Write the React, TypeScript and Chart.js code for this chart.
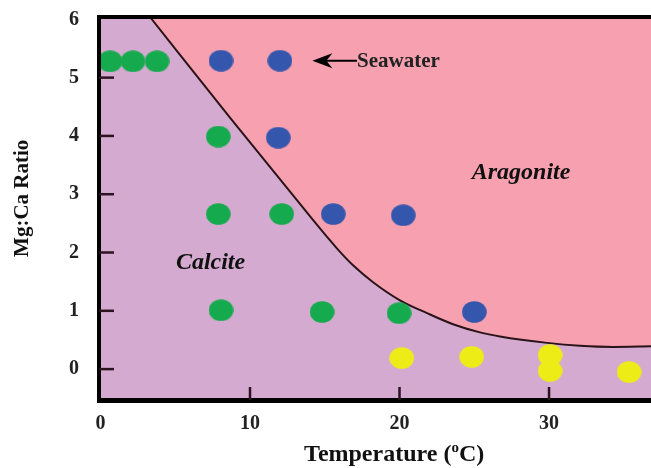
import React, { useEffect, useRef } from "react";
import { Chart, registerables } from "chart.js";
Chart.register(...registerables);

// Phase boundary (calcite / aragonite)
const boundaryT = [3.31, 8.7, 14.21, 15.15, 16.02, 16.89, 18.23, 20.03, 21.84, 23.58, 25.38, 26.72, 29.87, 32.07, 34.28, 36.82];
const boundaryRatio = [6.04, 4.3, 2.56, 2.27, 2.01, 1.78, 1.49, 1.18, 0.96, 0.77, 0.63, 0.56, 0.45, 0.4, 0.38, 0.39];

// Calcite precipitates (green)
const calciteT = [0.64, 2.17, 3.78, 7.88, 7.88, 12.12, 8.06, 14.82, 19.97];
const calciteRatio = [5.28, 5.28, 5.28, 3.99, 2.66, 2.66, 1.01, 0.98, 0.96];

// Aragonite precipitates (blue)
const aragoniteT = [8.06, 12.0, 11.89, 15.57, 20.25, 25.0];
const aragoniteRatio = [5.29, 5.29, 3.97, 2.66, 2.64, 0.98];

// Mixed / other (yellow)
const yellowT = [20.15, 24.83, 30.07, 30.07, 35.35];
const yellowRatio = [0.19, 0.21, 0.24, -0.03, -0.05];

const xTicks = [0, 10, 20, 30];
const yTicks = [0, 1, 2, 3, 4, 5, 6];
const xInnerTicks = [10, 20, 30];
const yInnerTicks = [0, 1, 2, 3, 4, 5];

const X_MIN = -0.1;
const X_MAX = 36.82;
const Y_MIN = -0.53;
const Y_MAX = 6.04;

const PURPLE = "rgb(212,170,208)";
const PINK = "rgb(246,160,176)";
const GREEN = "rgb(22,170,78)";
const BLUE = "rgb(52,86,172)";
const YELLOW = "rgb(238,236,22)";
const SERIF = "'Liberation Serif', 'Times New Roman', serif";

function ellipse(color: string) {
  const c = document.createElement("canvas");
  c.width = 25;
  c.height = 22;
  const ctx = c.getContext("2d")!;
  ctx.fillStyle = color;
  ctx.beginPath();
  ctx.ellipse(12.5, 11, 12.3, 10.8, 0, 0, Math.PI * 2);
  ctx.fill();
  return c;
}

const toPts = (xs: number[], ys: number[]) => xs.map((x, i) => ({ x, y: ys[i] }));

export default function App() {
  const ref = useRef<HTMLCanvasElement>(null);
  useEffect(() => {
    document.body.style.margin = "0";
    const canvas = ref.current!;
    const decor = {
      id: "decor",
      beforeDraw(chart: any) {
        const { ctx, chartArea: a } = chart;
        ctx.save();
        ctx.fillStyle = PURPLE;
        ctx.fillRect(a.left, a.top, a.right - a.left, a.bottom - a.top);
        ctx.restore();
      },
      afterDraw(chart: any) {
        const { ctx, chartArea: a } = chart;
        const xs = chart.scales.x;
        const ys = chart.scales.y;
        ctx.save();
        // top border
        ctx.strokeStyle = "#000";
        ctx.lineWidth = 4;
        ctx.beginPath();
        ctx.moveTo(a.left - 2, a.top);
        ctx.lineTo(a.right, a.top);
        ctx.stroke();
        // inner tick marks
        ctx.strokeStyle = "#2a1420";
        ctx.lineWidth = 2.5;
        yInnerTicks.forEach((v) => {
          const py = ys.getPixelForValue(v);
          ctx.beginPath();
          ctx.moveTo(a.left, py);
          ctx.lineTo(a.left + 15, py);
          ctx.stroke();
        });
        xInnerTicks.forEach((v) => {
          const px = xs.getPixelForValue(v);
          ctx.beginPath();
          ctx.moveTo(px, a.bottom);
          ctx.lineTo(px, a.bottom - 13);
          ctx.stroke();
        });
        // region labels
        ctx.fillStyle = "#111";
        ctx.textAlign = "center";
        ctx.textBaseline = "middle";
        ctx.font = `italic bold 24px ${SERIF}`;
        ctx.fillText("Aragonite", xs.getPixelForValue(28.13), ys.getPixelForValue(3.36));
        ctx.fillText("Calcite", xs.getPixelForValue(7.36), ys.getPixelForValue(1.82));
        // seawater arrow + label
        const ay = ys.getPixelForValue(5.29);
        const tip = xs.getPixelForValue(14.17);
        const tail = xs.getPixelForValue(17.16);
        ctx.strokeStyle = "#000";
        ctx.lineWidth = 2;
        ctx.beginPath();
        ctx.moveTo(tip + 6, ay);
        ctx.lineTo(tail, ay);
        ctx.stroke();
        ctx.fillStyle = "#000";
        ctx.beginPath();
        ctx.moveTo(tip, ay);
        ctx.lineTo(tip + 20, ay - 7.5);
        ctx.lineTo(tip + 14, ay);
        ctx.lineTo(tip + 20, ay + 7.5);
        ctx.closePath();
        ctx.fill();
        ctx.fillStyle = "#222";
        ctx.textAlign = "left";
        ctx.font = `bold 21px ${SERIF}`;
        ctx.fillText("Seawater", tail, ay + 1);
        // axis titles
        ctx.fillStyle = "#111";
        ctx.textBaseline = "alphabetic";
        const t1 = "Temperature (";
        const t2 = "C)";
        ctx.font = `bold 24px ${SERIF}`;
        const w1 = ctx.measureText(t1).width;
        const w2 = ctx.measureText(t2).width;
        ctx.font = `bold 15px ${SERIF}`;
        const wo = ctx.measureText("o").width;
        const total = w1 + wo + w2;
        const cx = xs.getPixelForValue(19.64);
        const by = chart.height - 7;
        let sx = cx - total / 2;
        ctx.font = `bold 24px ${SERIF}`;
        ctx.fillText(t1, sx, by);
        sx += w1;
        ctx.font = `bold 15px ${SERIF}`;
        ctx.fillText("o", sx, by - 9);
        sx += wo;
        ctx.font = `bold 24px ${SERIF}`;
        ctx.fillText(t2, sx, by);
        ctx.translate(23, ys.getPixelForValue(2.93));
        ctx.rotate(-Math.PI / 2);
        ctx.textAlign = "center";
        ctx.textBaseline = "middle";
        ctx.font = `bold 21px ${SERIF}`;
        ctx.fillText("Mg:Ca Ratio", 0, 0);
        ctx.restore();
      },
    };

    const chart = new Chart(canvas, {
      type: "scatter",
      data: {
        datasets: [
          {
            type: "line",
            label: "boundary",
            data: toPts(boundaryT, boundaryRatio),
            borderColor: "#2a1418",
            borderWidth: 2,
            pointRadius: 0,
            cubicInterpolationMode: "monotone",
            fill: "end",
            backgroundColor: PINK,
            order: 10,
          } as any,
          {
            label: "calcite",
            data: toPts(calciteT, calciteRatio),
            pointStyle: ellipse(GREEN),
            pointRadius: 12,
            clip: false,
            order: 1,
          } as any,
          {
            label: "aragonite",
            data: toPts(aragoniteT, aragoniteRatio),
            pointStyle: ellipse(BLUE),
            pointRadius: 12,
            clip: false,
            order: 1,
          } as any,
          {
            label: "yellow",
            data: toPts(yellowT, yellowRatio),
            pointStyle: ellipse(YELLOW),
            pointRadius: 12,
            clip: false,
            order: 1,
          } as any,
        ],
      },
      options: {
        animation: false,
        responsive: false,
        devicePixelRatio: 1,
        layout: { autoPadding: false, padding: { top: 17, right: 0, left: 0, bottom: 0 } },
        plugins: { legend: { display: false }, tooltip: { enabled: false } },
        scales: {
          x: {
            type: "linear",
            min: X_MIN,
            max: X_MAX,
            afterBuildTicks: (s: any) => {
              s.ticks = xTicks.map((v) => ({ value: v }));
            },
            afterFit: (s: any) => {
              s.height = 68;
              s.paddingLeft = 0;
              s.paddingRight = 0;
            },
            grid: { display: false, drawTicks: false },
            border: { display: true, color: "#000", width: 5, z: 1 },
            ticks: {
              color: "#222",
              padding: 12,
              maxRotation: 0,
              font: { family: SERIF, size: 20, weight: "bold" },
            },
          },
          y: {
            type: "linear",
            min: Y_MIN,
            max: Y_MAX,
            afterBuildTicks: (s: any) => {
              s.ticks = yTicks.map((v) => ({ value: v }));
            },
            afterFit: (s: any) => {
              s.width = 99;
              s.paddingTop = 0;
              s.paddingBottom = 0;
            },
            grid: { display: false, drawTicks: false },
            border: { display: true, color: "#000", width: 4, z: 1 },
            ticks: {
              color: "#222",
              padding: 20,
              font: { family: SERIF, size: 20, weight: "bold" },
            },
          },
        },
      } as any,
      plugins: [decor],
    });
    return () => chart.destroy();
  }, []);
  return (
    <div style={{ width: 651, height: 468 }}>
      <canvas ref={ref} width={651} height={468} style={{ display: "block" }} />
    </div>
  );
}
